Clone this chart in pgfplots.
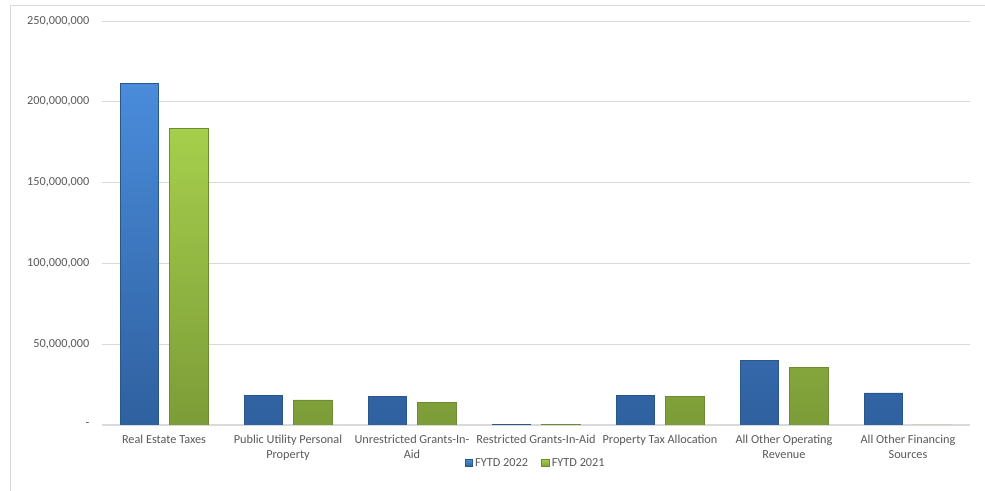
\documentclass[border=0pt]{standalone}
\usepackage{pgfplots}
\pgfplotsset{compat=1.18}
\usepackage{fontspec}
\setmainfont{Carlito}
\definecolor{txt}{HTML}{595959}
\definecolor{gridc}{HTML}{D9D9D9}
\definecolor{btop}{HTML}{4A8CDB}
\definecolor{bbot}{HTML}{2F609F}
\definecolor{bedge}{HTML}{2A5788}
\definecolor{gtop}{HTML}{A6CF4C}
\definecolor{gbot}{HTML}{7C9C38}
\definecolor{gedge}{HTML}{6E8A32}
\pgfplotstableread{
x y2022 y2021
0 211200000 183300000
1 18500000 15500000
2 17900000 14200000
3 200000 500000
4 18500000 17900000
5 40100000 35800000
6 19800000 0
}\data
\begin{document}
\begin{tikzpicture}[x=1pt,y=1pt]
\useasboundingbox (-76.5,-49.5) rectangle (662.25,318.75);
\draw[gridc] (-69,-80) rectangle (700,315);
\begin{axis}[
  at={(0,0)}, anchor=south west,
  scale only axis,
  width=651pt, height=303pt,
  xmin=-0.5, xmax=6.5,
  ymin=0, ymax=250000000,
  ytick={0,50000000,100000000,150000000,200000000,250000000},
  yticklabels={{-},{50,000,000},{100,000,000},{150,000,000},{200,000,000},{250,000,000}},
  xtick={0,1,2,3,4,5,6},
  xticklabels={{Real Estate Taxes},{Public Utility Personal\\Property},{Unrestricted Grants-In-\\Aid},{Restricted Grants-In-Aid},{Property Tax Allocation},{All Other Operating\\Revenue},{All Other Financing\\Sources}},
  xticklabel style={align=center, font=\fontsize{9.2}{11}\selectfont, text=txt},
  yticklabel style={font=\fontsize{9.2}{11}\selectfont, text=txt},
  scaled y ticks=false,
  ymajorgrids=true, xmajorgrids=false,
  y grid style={gridc, line width=0.6pt},
  axis y line*=left, axis x line*=bottom,
  y axis line style={draw=none},
  x axis line style={gridc, line width=0.8pt},
  major tick length=0pt,
  xtick style={draw=none}, ytick style={draw=none},
  x tick label style={yshift=-4pt},
  y tick label style={xshift=-6pt},
  ybar, bar width=29pt,
  legend style={at={(0.5,-0.068)}, anchor=north, draw=none, fill=none,
    legend columns=2, font=\fontsize{9.2}{11}\selectfont, text=txt,
    /tikz/every even column/.append style={column sep=8pt}},
  legend image code/.code={\draw[#1] (0pt,-2.7pt) rectangle (5.4pt,2.7pt);},
]
\addplot[bar shift=-18.4pt, draw=bedge, line width=0.5pt, top color=btop, bottom color=bbot] table[x=x,y=y2022]{\data};
\addplot[bar shift=18.4pt, draw=gedge, line width=0.5pt, top color=gtop, bottom color=gbot] table[x=x,y=y2021]{\data};
\legend{FYTD 2022, FYTD 2021}
\end{axis}
\end{tikzpicture}
\end{document}
